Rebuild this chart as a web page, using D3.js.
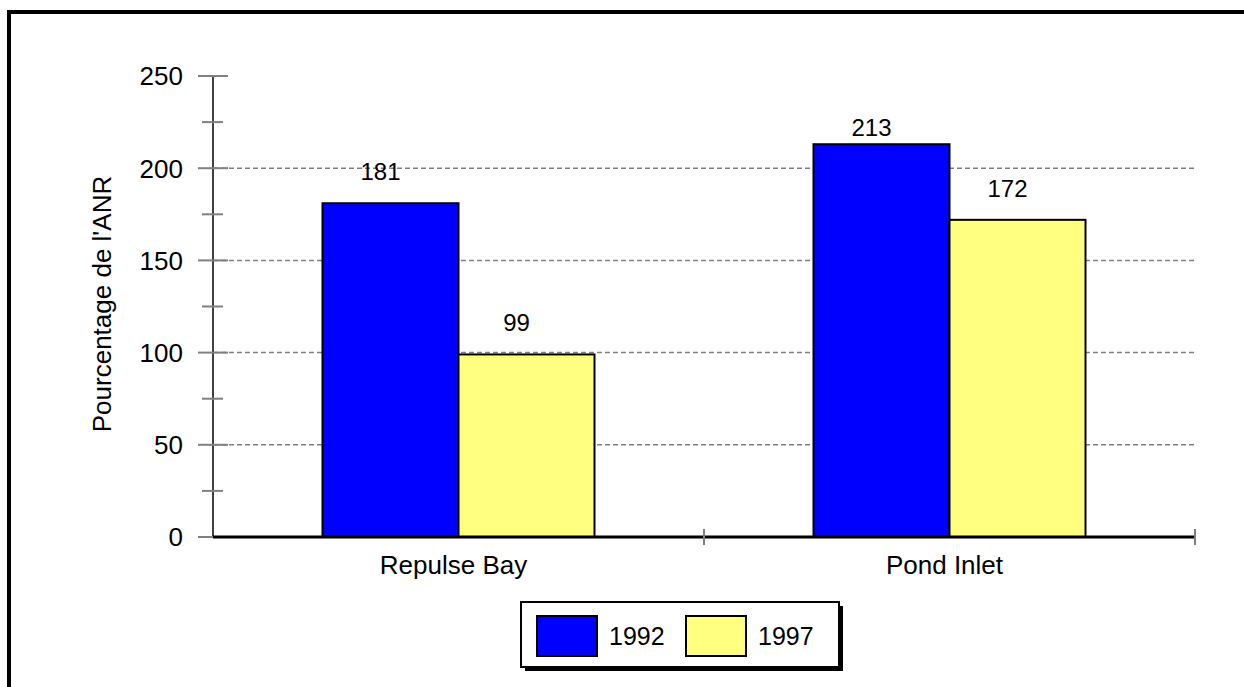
<!DOCTYPE html>
<html><head><meta charset="utf-8">
<script src="https://cdn.jsdelivr.net/npm/d3@7"></script>
<style>html,body{margin:0;padding:0;background:#fff}svg{display:block}text{font-family:"Liberation Sans",Arial,sans-serif;fill:#000}</style>
</head><body>
<svg id="c" width="1244" height="687"></svg>
<script>
const categories = ["Repulse Bay", "Pond Inlet"];
const series = ["1992", "1997"];
const values1992 = [181, 213];
const values1997 = [99, 172];
const yTicks = [0, 50, 100, 150, 200, 250];
const yMinorTicks = [25, 75, 125, 175, 225];
const yTitle = "Pourcentage de l'ANR";
const colors = ["#0000FF", "#FFFF80"];

const rows = categories.map((c, i) => ({cat: c, vals: [values1992[i], values1997[i]]}));

const svg = d3.select("#c");
// outer frame
svg.append("rect").attr("x", 9).attr("y", 12).attr("width", 1300).attr("height", 720)
  .attr("fill", "none").attr("stroke", "#000").attr("stroke-width", 4);

const y = d3.scaleLinear().domain([0, 250]).range([537, 76]);
const x = d3.scaleBand().domain(categories).range([213, 1195]).padding(0);
const bw = x.bandwidth();
const x1 = d3.scaleBand().domain(series).range([bw * 0.223, bw * 0.777]).padding(0);

// gridlines
svg.append("g").selectAll("line").data(yTicks.filter(d => d > 0 && d < 250)).join("line")
  .attr("x1", 213).attr("x2", 1195).attr("y1", d => y(d)).attr("y2", d => y(d))
  .attr("stroke", "#808080").attr("stroke-width", 1.5).attr("stroke-dasharray", "5,3");

// bars
const g = svg.append("g").selectAll("g").data(rows).join("g")
  .attr("transform", d => `translate(${x(d.cat)},0)`);
g.selectAll("rect").data(d => d.vals.map((v, i) => ({s: series[i], v, i}))).join("rect")
  .attr("x", d => x1(d.s)).attr("width", x1.bandwidth())
  .attr("y", d => y(d.v)).attr("height", d => y(0) - y(d.v))
  .attr("fill", d => colors[d.i]).attr("stroke", "#000").attr("stroke-width", 2);
g.selectAll("text").data(d => d.vals.map((v, i) => ({s: series[i], v, i}))).join("text")
  .attr("x", d => x1(d.s) + x1.bandwidth() / 2 - 10)
  .attr("y", d => Math.max(y(d.v) - 23, y(250) + 60))
  .attr("text-anchor", "middle").attr("font-size", 24).text(d => d.v);

// y axis
const yAxis = svg.append("g");
yAxis.append("line").attr("x1", 213).attr("x2", 213).attr("y1", y(250)).attr("y2", y(0))
  .attr("stroke", "#000").attr("stroke-width", 1.5);
yAxis.selectAll("line.maj").data(yTicks).join("line").attr("class", "maj")
  .attr("x1", 198).attr("x2", 228).attr("y1", d => y(d)).attr("y2", d => y(d))
  .attr("stroke", "#808080").attr("stroke-width", 2);
yAxis.selectAll("line.min").data(yMinorTicks).join("line").attr("class", "min")
  .attr("x1", 202).attr("x2", 223).attr("y1", d => y(d)).attr("y2", d => y(d))
  .attr("stroke", "#808080").attr("stroke-width", 2);
yAxis.selectAll("text").data(yTicks).join("text")
  .attr("x", 183).attr("y", d => y(d)).attr("dy", "0.36em")
  .attr("text-anchor", "end").attr("font-size", 26).text(d => d);

// x axis
svg.append("line").attr("x1", 213).attr("x2", 1195).attr("y1", y(0)).attr("y2", y(0))
  .attr("stroke", "#000").attr("stroke-width", 3);
svg.append("g").selectAll("line").data(categories).join("line")
  .attr("x1", d => x(d) + bw).attr("x2", d => x(d) + bw).attr("y1", 529).attr("y2", 545)
  .attr("stroke", "#808080").attr("stroke-width", 2);
svg.append("g").selectAll("text").data(categories).join("text")
  .attr("x", d => x(d) + bw / 2 - 5).attr("y", 574)
  .attr("text-anchor", "middle").attr("font-size", 26).text(d => d);

// y title
svg.append("text").attr("transform", "translate(111,304) rotate(-90)")
  .attr("text-anchor", "middle").attr("font-size", 26).text(yTitle);

// legend
const lg = svg.append("g");
lg.append("rect").attr("x", 525).attr("y", 606).attr("width", 318).attr("height", 65).attr("fill", "#000");
lg.append("rect").attr("x", 521).attr("y", 602).attr("width", 318).attr("height", 65)
  .attr("fill", "#fff").attr("stroke", "#000").attr("stroke-width", 2);
const items = lg.selectAll("g").data(series).join("g")
  .attr("transform", (d, i) => `translate(${537 + i * 149},616)`);
items.append("rect").attr("width", 60).attr("height", 40)
  .attr("fill", (d, i) => colors[i]).attr("stroke", "#000").attr("stroke-width", 2);
items.append("text").attr("x", 72).attr("y", 20).attr("dy", "0.36em")
  .attr("font-size", 25).text(d => d);
</script>
</body></html>
